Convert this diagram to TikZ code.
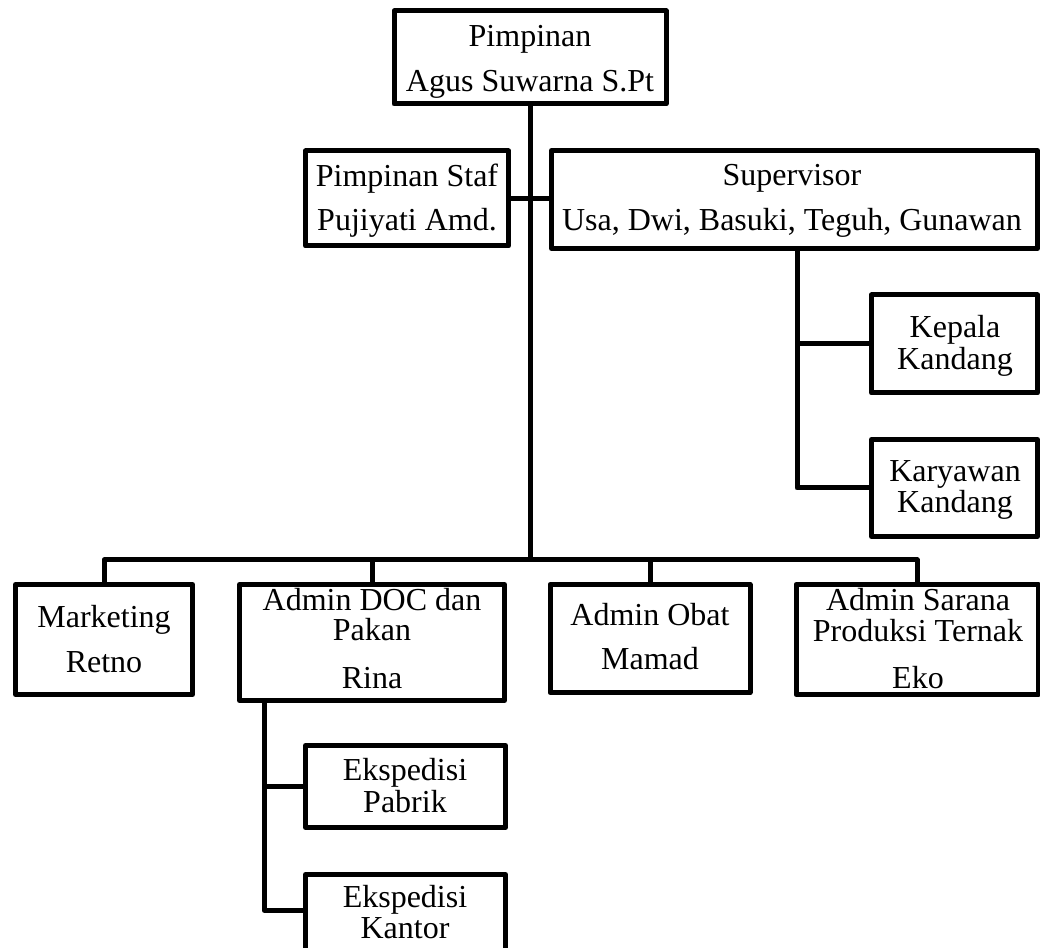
\documentclass[tikz,border=0pt]{standalone}
\usepackage{fontspec}
\setmainfont{Liberation Serif}
\newlength{\unitpx}\setlength{\unitpx}{0.75pt}
\begin{document}
\begin{tikzpicture}[x=0.75pt,y=-0.75pt,
  box/.style={draw,line width=3.75pt,rectangle,inner sep=0pt,outer sep=0pt,line join=round},
  lbl/.style={anchor=base,inner sep=0pt,font=\fontsize{24}{24}\selectfont},
  link/.style={line width=3.75pt,line join=round}]
\useasboundingbox (0,0) rectangle (1040,948);
\clip (0,0) rectangle (1040,948);

% boxes
\node[box,minimum width=272\unitpx,minimum height=93\unitpx] (top) at (530,57.5) {};
\node[box,minimum width=203\unitpx,minimum height=95\unitpx] (staf) at (407,198.5) {};
\node[box,minimum width=486\unitpx,minimum height=98\unitpx] (sup) at (794.5,199.5) {};
\node[box,minimum width=166\unitpx,minimum height=98\unitpx] (kep) at (954.5,344) {};
\node[box,minimum width=166\unitpx,minimum height=97\unitpx] (kar) at (954.5,488) {};
\node[box,minimum width=177\unitpx,minimum height=110\unitpx] (mkt) at (104,639.5) {};
\node[box,minimum width=265\unitpx,minimum height=116\unitpx] (doc) at (372,642.5) {};
\node[box,minimum width=200\unitpx,minimum height=108\unitpx] (obat) at (650,638.5) {};
\node[box,minimum width=242\unitpx,minimum height=110\unitpx] (sar) at (917,639.5) {};
\node[box,minimum width=200\unitpx,minimum height=82\unitpx] (pab) at (405.5,786.5) {};
\node[box,minimum width=200\unitpx,minimum height=82\unitpx] (kan) at (405.5,915.5) {};

% connectors
\coordinate (bus) at (530,560);
\coordinate (supstem) at (797,0);
\coordinate (docstem) at (264,0);
\draw[link] (top.south) -- (top.south |- bus);
\draw[link] (mkt.north) |- (bus) -| (sar.north);
\draw[link] (doc.north) -- (doc.north |- bus);
\draw[link] (obat.north) -- (obat.north |- bus);
\draw[link] (staf.east) -- (staf.east -| sup.west);
\draw[link] (sup.south -| supstem) |- (kar.west);
\draw[link] (kep.west) -- (kep.west -| supstem);
\draw[link] (doc.south -| docstem) |- ([yshift=4pt]kan.west);
\draw[link] (pab.west) -- (pab.west -| docstem);

% labels
\node[lbl] (topa) at (530,47) {Pimpinan};
\node[lbl] (topb) at (530,92) {Agus Suwarna S.Pt};
\node[lbl] (stafa) at (407,187) {Pimpinan Staf};
\node[lbl] (stafb) at (407,231) {Pujiyati Amd.};
\node[lbl] (supa) at (792,186) {Supervisor};
\node[lbl] (supb) at (792,231) {Usa, Dwi, Basuki, Teguh, Gunawan};
\node[lbl] (kepa) at (955,338) {Kepala};
\node[lbl] (kepb) at (955,370) {Kandang};
\node[lbl] (kara) at (955,482) {Karyawan};
\node[lbl] (karb) at (955,513) {Kandang};
\node[lbl] (mkta) at (104,628) {Marketing};
\node[lbl] (mktb) at (104,672) {Retno};
\node[lbl] (doca) at (372,611) {Admin DOC dan};
\node[lbl] (docb) at (372,641) {Pakan};
\node[lbl] (docc) at (372,688) {Rina};
\node[lbl] (obata) at (650,626) {Admin Obat};
\node[lbl] (obatb) at (650,670) {Mamad};
\node[lbl] (sara) at (918,611) {Admin Sarana};
\node[lbl] (sarb) at (918,642) {Produksi Ternak};
\node[lbl] (sarc) at (918,688) {Eko};
\node[lbl] (paba) at (405,780) {Ekspedisi};
\node[lbl] (pabb) at (405,812) {Pabrik};
\node[lbl] (kana) at (405,907) {Ekspedisi};
\node[lbl] (kanb) at (405,938) {Kantor};
\end{tikzpicture}
\end{document}
